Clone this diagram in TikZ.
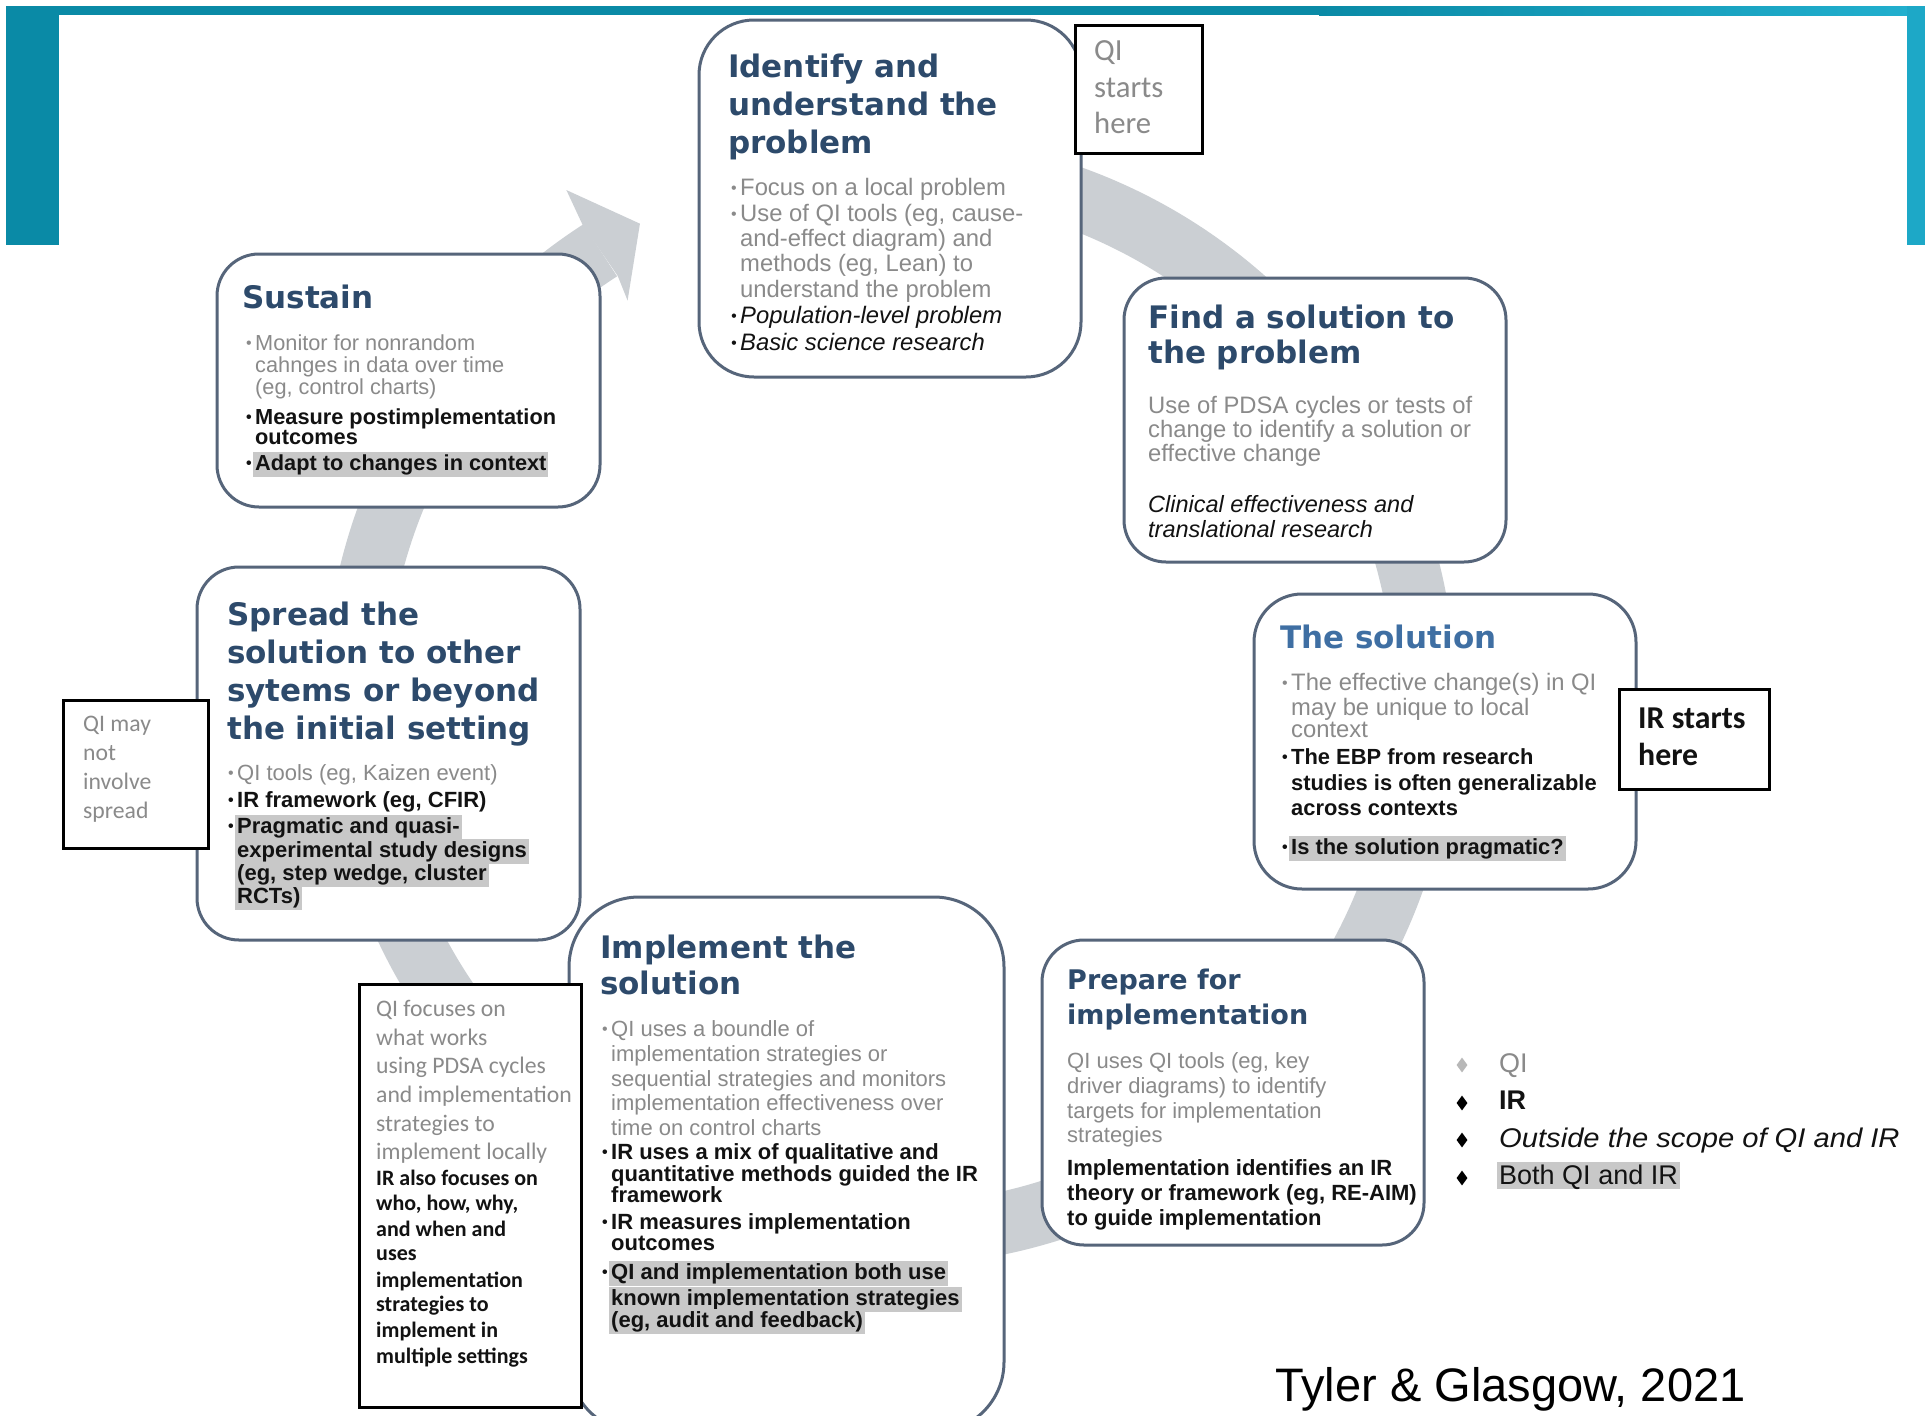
\documentclass[tikz,border=0pt]{standalone}
\usepackage{fontspec}
\usepackage{graphicx}
\setmainfont{Liberation Sans}
\newfontfamily\ttlfont{DejaVu Sans}
\newfontfamily\calfont{Carlito}
\usetikzlibrary{shapes.geometric}
\definecolor{tealA}{HTML}{0A8AA6}
\definecolor{tealB}{HTML}{22B0CF}
\definecolor{ringgray}{HTML}{CBCFD3}
\definecolor{boxline}{HTML}{56657A}
\definecolor{ttlblue}{HTML}{2D4A6B}
\definecolor{solblue}{HTML}{3F6FA3}
\definecolor{txtgray}{HTML}{8A8A8A}
\definecolor{hlgray}{HTML}{C8C8C8}
\definecolor{txtblack}{HTML}{121212}
\definecolor{diagray}{HTML}{B8B8B8}
\newcommand\bul{\llap{\raisebox{1.2pt}{\fontsize{16}{16}\selectfont\textbullet}\hspace{3.5pt}}}
\tikzset{
  stage/.style={draw=boxline, line width=3pt, fill=white, rounded corners=#1},
  stage/.default=42pt,
  notebox/.style={draw=black, line width=3pt, fill=white},
  lin/.style={anchor=base west, inner sep=0pt},
  ttl/.style={lin, text=ttlblue, font=\ttlfont\bfseries\fontsize{#1}{#1}\selectfont},
  gry/.style={lin, text=txtgray, font=\fontsize{#1}{#1}\selectfont},
  blk/.style={lin, text=txtblack, font=\bfseries\fontsize{#1}{#1}\selectfont},
  itl/.style={lin, text=txtblack, font=\itshape\fontsize{#1}{#1}\selectfont},
  hil/.style={blk=#1, fill=hlgray, inner xsep=2pt, text height=18pt, text depth=7pt},
  cgry/.style={lin, text=txtgray, font=\calfont\fontsize{#1}{#1}\selectfont},
  cblk/.style={lin, text=txtblack, font=\calfont\bfseries\fontsize{#1}{#1}\selectfont},
  dia/.style={diamond, minimum width=11pt, minimum height=15pt, inner sep=0pt, fill=#1},
}
\begin{document}
\begin{tikzpicture}[x=1pt,y=-1pt]
\useasboundingbox (0,0) rectangle (1925,1416);
\clip (0,0) rectangle (1925,1416);
\fill[white] (0,0) rectangle (1925,1416);
% frame
\fill[tealA] (6,6) rectangle (1320,15);
\shade[left color=tealA, right color=tealB] (1319,6) rectangle (1925,15);
\fill[tealA] (6,6) rectangle (59,245);
\fill[tealB!80!tealA] (1907,6) rectangle (1925,245);
% ring
\coordinate (rc) at (890,700);
\draw[ringgray, line width=62pt] (rc) ++(-75:535) arc[start angle=-75, end angle=237.2, radius=535];
\begin{scope}[shift={(890,700)}]
\fill[ringgray] (237.1:566) -- (237.6:604) -- (242.3:538) -- (236.7:478) -- (237.3:504) -- cycle;
\end{scope}
% stage boxes
\node[stage=55pt, minimum width=382pt, minimum height=357pt] (identify) at (890,198.5) {};
\node[stage, minimum width=383pt, minimum height=253pt] (sustain) at (408.5,380.5) {};
\node[stage, minimum width=382pt, minimum height=284pt] (find) at (1315,420) {};
\node[stage=48pt, minimum width=382pt, minimum height=295pt] (solution) at (1445,741.5) {};
\node[stage, minimum width=383pt, minimum height=373pt] (spread) at (388.5,753.5) {};
\node[stage=70pt, minimum width=435pt, minimum height=535pt] (implement) at (786.5,1164.5) {};
\node[stage, minimum width=382pt, minimum height=305pt] (prepare) at (1233,1092.5) {};
% note boxes
\node[notebox, minimum width=127pt, minimum height=128pt] (qistart) at (1138.5,89) {};
\node[notebox, minimum width=150pt, minimum height=100pt] (irstart) at (1694,739) {};
\node[notebox, minimum width=145pt, minimum height=148pt] (qinot) at (135.5,774) {};
\node[notebox, minimum width=222pt, minimum height=423pt] (qifocus) at (470,1195.5) {};
% Identify
\node[ttl=31] (idT1) at (728,77) {Identify and};
\node[ttl=31] (idT2) at (728,115) {understand the};
\node[ttl=31] (idT3) at (728,153) {problem};
\node[gry=23.8] (idB1) at (740,195) {\bul Focus on a local problem};
\node[gry=23.8] (idB2) at (740,221) {\bul Use of QI tools (eg, cause-};
\node[gry=23.8] (idB3) at (740,246) {and-effect diagram) and};
\node[gry=23.8] (idB4) at (740,271) {methods (eg, Lean) to};
\node[gry=23.8] (idB5) at (740,297) {understand the problem};
\node[itl=23.8] (idB6) at (740,323) {\bul Population-level problem};
\node[itl=23.8] (idB7) at (740,350) {\bul Basic science research};
% Sustain
\node[ttl=31] (suT) at (242,308) {Sustain};
\node[gry=21.75] (suB1) at (255,350) {\bul Monitor for nonrandom};
\node[gry=21.75] (suB2) at (255,372) {cahnges in data over time};
\node[gry=21.75] (suB3) at (255,394) {(eg, control charts)};
\node[blk=21.75] (suB4) at (255,424) {\bul Measure postimplementation};
\node[blk=21.75] (suB5) at (255,444) {outcomes};
\node[hil=21.75] (suB6) at (253,470) {\bul Adapt to changes in context};
% Find
\node[ttl=31] (fiT1) at (1148,328) {Find a solution to};
\node[ttl=31] (fiT2) at (1148,363) {the problem};
\node[gry=23.8] (fiB1) at (1148,413) {Use of PDSA cycles or tests of};
\node[gry=23.8] (fiB2) at (1148,437) {change to identify a solution or};
\node[gry=23.8] (fiB3) at (1148,461) {effective change};
\node[itl=23.5] (fiB4) at (1148,512) {Clinical effectiveness and};
\node[itl=23.5] (fiB5) at (1148,537) {translational research};
% Solution
\node[ttl=31, text=solblue] (soT) at (1280,648) {The solution};
\node[gry=23.8] (soB1) at (1291,690) {\bul The effective change(s) in QI};
\node[gry=23.8] (soB2) at (1291,715) {may be unique to local};
\node[gry=23.8] (soB3) at (1291,737) {context};
\node[blk=21.9] (soB4) at (1291,764) {\bul The EBP from research};
\node[blk=21.9] (soB5) at (1291,790) {studies is often generalizable};
\node[blk=21.9] (soB6) at (1291,815) {across contexts};
\node[hil=21.9] (soB7) at (1289,854) {\bul Is the solution pragmatic?};
% Spread
\node[ttl=31] (spT1) at (227,625) {Spread the};
\node[ttl=31] (spT2) at (227,663) {solution to other};
\node[ttl=31] (spT3) at (227,701) {sytems or beyond};
\node[ttl=31] (spT4) at (227,739) {the initial setting};
\node[gry=22] (spB1) at (237,780) {\bul QI tools (eg, Kaizen event)};
\node[blk=22] (spB2) at (237,807) {\bul IR framework (eg, CFIR)};
\node[hil=22] (spB3) at (235,833) {\bul Pragmatic and quasi-};
\node[hil=22] (spB4) at (235,857) {experimental study designs};
\node[hil=22] (spB5) at (235,880) {(eg, step wedge, cluster};
\node[hil=22] (spB6) at (235,903) {RCTs)};
% Implement
\node[ttl=31] (imT1) at (600,958) {Implement the};
\node[ttl=31] (imT2) at (600,994) {solution};
\node[gry=22] (imB1) at (611,1036) {\bul QI uses a boundle of};
\node[gry=22] (imB2) at (611,1061) {implementation strategies or};
\node[gry=22] (imB3) at (611,1086) {sequential strategies and monitors};
\node[gry=22] (imB4) at (611,1110) {implementation effectiveness over};
\node[gry=22] (imB5) at (611,1135) {time on control charts};
\node[blk=22] (imB6) at (611,1159) {\bul IR uses a mix of qualitative and};
\node[blk=22] (imB7) at (611,1181) {quantitative methods guided the IR};
\node[blk=22] (imB8) at (611,1202) {framework};
\node[blk=22] (imB9) at (611,1229) {\bul IR measures implementation};
\node[blk=22] (imB10) at (611,1250) {outcomes};
\node[hil=22] (imB11) at (609,1279) {\bul QI and implementation both use};
\node[hil=22] (imB12) at (609,1305) {known implementation strategies};
\node[hil=22] (imB13) at (609,1327) {(eg, audit and feedback)};
% Prepare
\node[ttl=27] (prT1) at (1067,989) {Prepare for};
\node[ttl=27] (prT2) at (1067,1024) {implementation};
\node[gry=22] (prB1) at (1067,1068) {QI uses QI tools (eg, key};
\node[gry=22] (prB2) at (1067,1093) {driver diagrams) to identify};
\node[gry=22] (prB3) at (1067,1118) {targets for implementation};
\node[gry=22] (prB4) at (1067,1142) {strategies};
\node[blk=22] (prB5) at (1067,1175) {Implementation identifies an IR};
\node[blk=22] (prB6) at (1067,1200) {theory or framework (eg, RE-AIM)};
\node[blk=22] (prB7) at (1067,1225) {to guide implementation};
% QI starts here
\node[cgry=30.7] (qsT1) at (1094,60) {QI};
\node[cgry=30.7] (qsT2) at (1094,97) {starts};
\node[cgry=30.7] (qsT3) at (1094,133) {here};
% IR starts here
\node[cblk=31.8] (irT1) at (1638,728) {IR starts};
\node[cblk=31.8] (irT2) at (1638,765) {here};
% QI may not involve spread
\node[cgry=23.7] (qnT1) at (83,731) {QI may};
\node[cgry=23.7] (qnT2) at (83,760) {not};
\node[cgry=23.7] (qnT3) at (83,789) {involve};
\node[cgry=23.7] (qnT4) at (83,818) {spread};
% QI focuses
\node[cgry=23.7] (qfT1) at (376,1016) {QI focuses on};
\node[cgry=23.7] (qfT2) at (376,1045) {what works};
\node[cgry=23.7] (qfT3) at (376,1073) {using PDSA cycles};
\node[cgry=23.7] (qfT4) at (376,1102) {and implementation};
\node[cgry=23.7] (qfT5) at (376,1131) {strategies to};
\node[cgry=23.7] (qfT6) at (376,1159) {implement locally};
\node[cblk=22] (qfT7) at (376,1185) {IR also focuses on};
\node[cblk=22] (qfT8) at (376,1210) {who, how, why,};
\node[cblk=22] (qfT9) at (376,1236) {and when and};
\node[cblk=22] (qfT10) at (376,1260) {uses};
\node[cblk=22] (qfT11) at (376,1287) {implementation};
\node[cblk=22] (qfT12) at (376,1311) {strategies to};
\node[cblk=22] (qfT13) at (376,1337) {implement in};
\node[cblk=22] (qfT14) at (376,1363) {multiple settings};
% legend
\node[dia=diagray] (lgD1) at (1462,1065) {};
\node[dia=black] (lgD2) at (1462,1103) {};
\node[dia=black] (lgD3) at (1462,1140) {};
\node[dia=black] (lgD4) at (1462,1178) {};
\node[gry=27] (lgT1) at (1499,1072) {QI};
\node[blk=27] (lgT2) at (1499,1109) {IR};
\node[itl=27] (lgT3) at (1499,1147) {\scalebox{1.08}[1]{Outside the scope of QI and IR}};
\node[lin, text=txtblack, font=\fontsize{27}{27}\selectfont, fill=hlgray, inner xsep=2pt, text height=22pt, text depth=5pt] (lgT4) at (1497,1184) {Both QI and IR};
% citation
\node[lin, text=black, font=\fontsize{47}{47}\selectfont] (cite) at (1275,1401) {Tyler \& Glasgow, 2021};
\end{tikzpicture}
\end{document}
